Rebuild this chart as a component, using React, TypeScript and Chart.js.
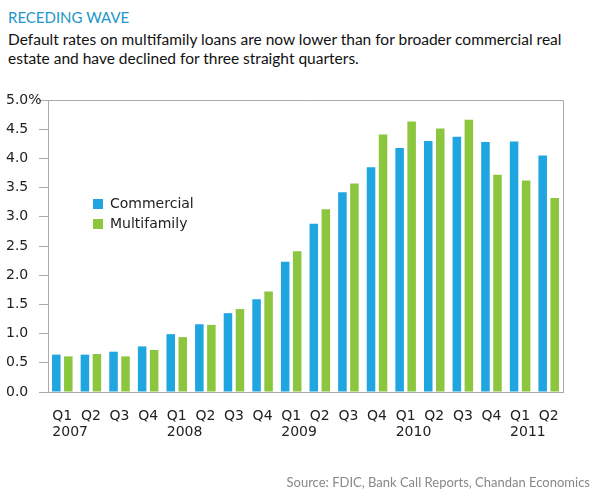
import React, { useEffect, useRef } from "react";
import { Chart, registerables } from "chart.js";
Chart.register(...registerables);

const QUARTERS = ["Q1","Q2","Q3","Q4","Q1","Q2","Q3","Q4","Q1","Q2","Q3","Q4","Q1","Q2","Q3","Q4","Q1","Q2"];
const YEAR_LABELS = ["2007","","","","2008","","","","2009","","","","2010","","","","2011",""];
const COMMERCIAL = [0.64,0.64,0.69,0.78,0.99,1.16,1.35,1.59,2.23,2.88,3.42,3.85,4.18,4.30,4.37,4.28,4.29,4.05];
const MULTIFAMILY = [0.61,0.65,0.61,0.72,0.94,1.15,1.42,1.72,2.41,3.13,3.57,4.41,4.63,4.51,4.66,3.72,3.62,3.32];
const Y_TICK_LABELS = ["0.0","0.5","1.0","1.5","2.0","2.5","3.0","3.5","4.0","4.5","5.0%"];
const SERIES_NAMES = ["Commercial", "Multifamily"];

const BLUE = "#1fa5e0";
const GREEN = "#8cc63e";
const AXIS_FONT = "'DejaVu Sans', sans-serif";

const overlayPlugin = {
  id: "overlay",
  afterDraw(chart: any) {
    const { ctx, chartArea } = chart;
    const xs = chart.scales.x;
    ctx.save();
    ctx.strokeStyle = "#aaaaaa";
    ctx.lineWidth = 1;
    ctx.beginPath();
    ctx.moveTo(chartArea.left, chartArea.top + 0.5);
    ctx.lineTo(chartArea.right + 0.5, chartArea.top + 0.5);
    ctx.lineTo(chartArea.right + 0.5, chartArea.bottom);
    ctx.stroke();
    ctx.font = `14px ${AXIS_FONT}`;
    ctx.fillStyle = "#222";
    ctx.textBaseline = "middle";
    ctx.textAlign = "left";
    YEAR_LABELS.forEach((y, i) => {
      if (!y) return;
      const qw = ctx.measureText(QUARTERS[i]).width;
      const x = xs.getPixelForValue(i) - qw / 2;
      ctx.fillText(y, x, 432);
    });
    const colors = [BLUE, GREEN];
    ctx.font = `14px ${AXIS_FONT}`;
    SERIES_NAMES.forEach((name, i) => {
      const cy = 204 + i * 20;
      ctx.fillStyle = colors[i];
      ctx.fillRect(93, cy - 5, 10, 10);
      ctx.fillStyle = "#222";
      ctx.fillText(name, 110, cy);
    });
    ctx.restore();
  },
};

export default function App() {
  const ref = useRef<HTMLCanvasElement>(null);
  useEffect(() => {
    const tickFont = { family: AXIS_FONT, size: 14 };
    const chart = new Chart(ref.current!, {
      type: "bar",
      data: {
        labels: QUARTERS,
        datasets: [
          { label: SERIES_NAMES[0], data: COMMERCIAL, backgroundColor: BLUE, categoryPercentage: 0.84, barPercentage: 0.71 },
          { label: SERIES_NAMES[1], data: MULTIFAMILY, backgroundColor: GREEN, categoryPercentage: 0.84, barPercentage: 0.71 },
        ],
      },
      options: {
        animation: false,
        responsive: false,
        maintainAspectRatio: false,
        layout: { padding: { left: 6, right: 37, top: 100, bottom: 72 } },
        plugins: { legend: { display: false }, tooltip: { enabled: false } },
        scales: {
          x: {
            grid: { display: false },
            border: { display: true, color: "#aaaaaa" },
            ticks: { font: tickFont, color: "#222", padding: 8, maxRotation: 0, autoSkip: false },
            afterFit: (s: any) => { s.height = 40; },
          },
          y: {
            min: 0,
            max: 5,
            grid: { drawOnChartArea: false, drawTicks: true, tickLength: 9, color: "#aaaaaa" },
            border: { display: true, color: "#aaaaaa" },
            ticks: {
              stepSize: 0.5,
              crossAlign: "far",
              font: tickFont,
              color: "#222",
              callback: (_v: any, i: number) => Y_TICK_LABELS[i],
            },
            afterFit: (s: any) => { s.width = 42; },
          },
        },
      },
      plugins: [overlayPlugin],
    });
    return () => chart.destroy();
  }, []);
  return (
    <div style={{ position: "fixed", left: 0, top: 0, width: 600, height: 504, background: "#fff", overflow: "hidden" }}>
      <div style={{ position: "absolute", left: 8, top: 8, fontFamily: "Lato, 'Open Sans', sans-serif", fontSize: 15, color: "#2196c9", lineHeight: "18px" }}>
        RECEDING WAVE
      </div>
      <div style={{ position: "absolute", left: 8, top: 30, width: 580, fontFamily: "Lato, 'Open Sans', sans-serif", fontSize: 15.5, color: "#111", lineHeight: "19px" }}>
        Default rates on multifamily loans are now lower than for broader commercial real<br />
        estate and have declined for three straight quarters.
      </div>
      <canvas ref={ref} width={600} height={504} style={{ position: "absolute", left: 0, top: 0 }} />
      <div style={{ position: "absolute", right: 10, top: 474, fontFamily: "Lato, 'Open Sans', sans-serif", fontSize: 13, color: "#888", whiteSpace: "nowrap" }}>
        Source: FDIC, Bank Call Reports, Chandan Economics
      </div>
    </div>
  );
}
